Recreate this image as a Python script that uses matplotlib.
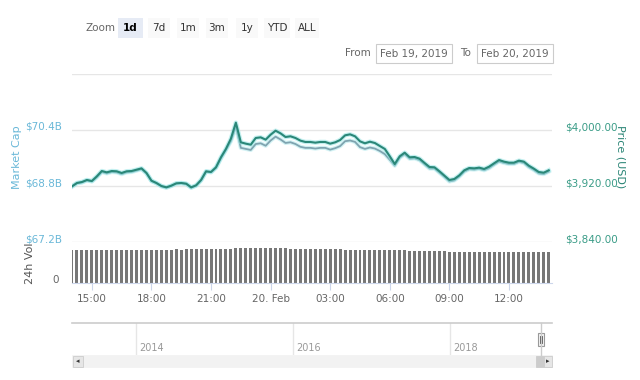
import matplotlib
import matplotlib.pyplot as plt
import pandas as pd
from matplotlib.patches import Rectangle

matplotlib.use("Agg")

W, H = 640, 380

# 15-minute samples, Feb 19 14:00 -> Feb 20 14:00
TIMES = pd.date_range("2019-02-19 14:00", periods=97, freq="15min")

PRICE = [
    3919.5, 3924.3, 3925.7, 3928.6, 3927.1, 3933.8, 3941.4, 3939.5, 3941.4, 3941.0,
    3938.6, 3941.0, 3941.4, 3943.3, 3945.2, 3938.6, 3927.6, 3924.3, 3920.0, 3918.1,
    3920.5, 3923.8, 3924.3, 3923.3, 3918.1, 3921.0, 3928.6, 3941.0, 3940.0, 3946.7,
    3961.0, 3972.9, 3987.6, 4010.5, 3982.4, 3980.5, 3979.0, 3988.6, 3989.5, 3986.2,
    3993.3, 3999.0, 3995.2, 3990.0, 3991.0, 3988.6, 3984.8, 3982.9, 3982.9, 3981.9,
    3982.9, 3982.9, 3980.5, 3982.4, 3985.7, 3992.4, 3993.8, 3991.0, 3983.8, 3981.0,
    3983.3, 3981.4, 3977.1, 3972.9, 3962.4, 3951.4, 3962.4, 3967.6, 3961.0, 3961.4,
    3959.0, 3952.9, 3947.1, 3946.7, 3941.0, 3934.8, 3928.6, 3930.0, 3935.2, 3942.4,
    3945.7, 3945.2, 3946.2, 3944.3, 3947.6, 3952.4, 3957.1, 3954.8, 3953.3, 3953.3,
    3956.2, 3954.8, 3949.0, 3944.8, 3940.0, 3939.0, 3942.4,
]

MARKET_CAP = [
    68.78, 68.88, 68.90, 68.96, 68.93, 69.05, 69.20, 69.16, 69.20, 69.19,
    69.14, 69.19, 69.20, 69.24, 69.28, 69.16, 68.94, 68.88, 68.79, 68.75,
    68.80, 68.87, 68.88, 68.86, 68.75, 68.81, 68.96, 69.21, 69.19, 69.32,
    69.59, 69.83, 70.08, 70.50, 69.89, 69.86, 69.83, 70.00, 70.02, 69.95,
    70.10, 70.21, 70.13, 70.03, 70.05, 70.00, 69.92, 69.89, 69.89, 69.87,
    69.89, 69.89, 69.84, 69.88, 69.94, 70.08, 70.10, 70.06, 69.91, 69.86,
    69.90, 69.87, 69.80, 69.71, 69.55, 69.38, 69.61, 69.71, 69.58, 69.59,
    69.54, 69.42, 69.30, 69.30, 69.18, 69.06, 68.93, 68.96, 69.07, 69.21,
    69.28, 69.27, 69.29, 69.25, 69.31, 69.41, 69.50, 69.46, 69.43, 69.43,
    69.49, 69.46, 69.34, 69.26, 69.16, 69.14, 69.21,
]

# 24h volume, billions USD
VOLUME = [
    8.20, 8.22, 8.18, 8.25, 8.22, 8.24, 8.27, 8.25, 8.26, 8.28,
    8.27, 8.30, 8.28, 8.31, 8.30, 8.32, 8.30, 8.33, 8.35, 8.34,
    8.36, 8.38, 8.37, 8.40, 8.42, 8.41, 8.44, 8.45, 8.47, 8.48,
    8.52, 8.55, 8.60, 8.66, 8.64, 8.66, 8.65, 8.68, 8.70, 8.72,
    8.74, 8.72, 8.70, 8.66, 8.62, 8.58, 8.55, 8.52, 8.50, 8.48,
    8.45, 8.44, 8.42, 8.40, 8.38, 8.37, 8.36, 8.34, 8.32, 8.30,
    8.28, 8.27, 8.25, 8.24, 8.22, 8.20, 8.18, 8.15, 8.12, 8.08,
    8.05, 8.02, 7.98, 7.95, 7.92, 7.88, 7.85, 7.82, 7.80, 7.78,
    7.76, 7.75, 7.73, 7.72, 7.70, 7.71, 7.69, 7.68, 7.66, 7.67,
    7.65, 7.64, 7.66, 7.65, 7.63, 7.64, 7.66,
]

TICK_TIMES = pd.to_datetime([
    "2019-02-19 15:00", "2019-02-19 18:00", "2019-02-19 21:00", "2019-02-20 00:00",
    "2019-02-20 03:00", "2019-02-20 06:00", "2019-02-20 09:00", "2019-02-20 12:00",
])
TICK_LABELS = ["15:00", "18:00", "21:00", "20. Feb", "03:00", "06:00", "09:00", "12:00"]

MCAP_TICKS = [67.2, 68.8, 70.4]
MCAP_LABELS = ["$67.2B", "$68.8B", "$70.4B"]
PRICE_TICKS = [3840, 3920, 4000]
PRICE_LABELS = ["$3,840.00", "$3,920.00", "$4,000.00"]

ZOOM_BUTTONS = ["1d", "7d", "1m", "3m", "1y", "YTD", "ALL"]
NAV_YEARS = [2014, 2016, 2018]

MCAP_COLOR = "#6ab8d8"
PRICE_COLOR = "#3a9c87"
GRID = "#e6e6e6"
AXIS = "#ccd6eb"


def fx(x):
    return x / W


def fy(y):
    return 1 - y / H


def px_axes(fig, x0, y0, x1, y1):
    return fig.add_axes([fx(x0), fy(y1), (x1 - x0) / W, (y1 - y0) / H])


def rect(fig, x0, y0, x1, y1, **kw):
    fig.add_artist(Rectangle((fx(x0), fy(y1)), (x1 - x0) / W, (y1 - y0) / H,
                             transform=fig.transFigure, **kw))


def main():
    fig = plt.figure(figsize=(W / 100, H / 100), dpi=100)
    fig.patch.set_facecolor("white")

    # --- range selector -------------------------------------------------
    fig.text(fx(101), fy(28), "Zoom", color="#666666", fontsize=7.5, ha="center", va="center")
    btn_x = [130, 159, 188, 217, 247, 277, 307]
    btn_w = [25, 22, 22, 22, 22, 26, 24]
    for label, cx, bw in zip(ZOOM_BUTTONS, btn_x, btn_w):
        selected = label == "1d"
        rect(fig, cx - bw / 2, 18, cx + bw / 2, 38,
             facecolor="#e6ebf5" if selected else "#f9f9f9", edgecolor="none")
        fig.text(fx(cx), fy(28), label, fontsize=7.5, ha="center", va="center",
                 color="#000000" if selected else "#333333",
                 fontweight="bold" if selected else "normal")

    fig.text(fx(358), fy(53), "From", color="#666666", fontsize=7.5, ha="center", va="center")
    rect(fig, 376, 44, 452, 63, facecolor="white", edgecolor="#cccccc", linewidth=0.8)
    fig.text(fx(414), fy(53.5), "Feb 19, 2019", color="#666666", fontsize=7.5,
             ha="center", va="center")
    fig.text(fx(466), fy(53), "To", color="#666666", fontsize=7.5, ha="center", va="center")
    rect(fig, 477, 44, 553, 63, facecolor="white", edgecolor="#cccccc", linewidth=0.8)
    fig.text(fx(515), fy(53.5), "Feb 20, 2019", color="#666666", fontsize=7.5,
             ha="center", va="center")

    # --- price / market cap pane ---------------------------------------
    xmin, xmax = TIMES[0], TIMES[-1] + pd.Timedelta("10min")
    ax_mc = px_axes(fig, 72, 74, 552, 242)
    ax_px = ax_mc.twinx()
    for ax in (ax_mc, ax_px):
        ax.set_xlim(xmin, xmax)
        for s in ax.spines.values():
            s.set_visible(False)
        ax.set_xticks([])
        ax.set_yticks([])
    ax_mc.set_ylim(67.2, 72.0)
    ax_px.set_ylim(3840, 4080)
    ax_mc.patch.set_alpha(0)

    for v in [67.2, 68.8, 70.4, 72.0]:
        ax_mc.axhline(v, color=GRID, linewidth=1, zorder=0)

    ax_mc.plot(TIMES, MARKET_CAP, color="#a6e6ea", linewidth=3.0, alpha=0.5,
               solid_joinstyle="round", zorder=2)
    ax_mc.plot(TIMES, MARKET_CAP, color="#7fa4b0", linewidth=1.3, zorder=3)
    ax_px.plot(TIMES, PRICE, color="#94e4e4", linewidth=3.2, alpha=0.55,
               solid_joinstyle="round", zorder=2)
    ax_px.plot(TIMES, PRICE, color="#2a8778", linewidth=1.5, zorder=3)

    for v, s in zip(MCAP_TICKS, MCAP_LABELS):
        ax_mc.text(-0.021, v, s, transform=ax_mc.get_yaxis_transform(), ha="right",
                   va="baseline", color=MCAP_COLOR, fontsize=7.5)
    for v, s in zip(PRICE_TICKS, PRICE_LABELS):
        ax_px.text(1.027, v, s, transform=ax_px.get_yaxis_transform(), ha="left",
                   va="baseline", color=PRICE_COLOR, fontsize=7.5)

    fig.text(fx(17.5), fy(157), "Market Cap", rotation=90, color=MCAP_COLOR,
             fontsize=8, ha="center", va="center")
    fig.text(fx(621), fy(157), "Price (USD)", rotation=270, color="#2b8576",
             fontsize=8, ha="center", va="center")

    # --- volume pane ------------------------------------------------------
    ax_vol = px_axes(fig, 72, 243, 552, 283)
    ax_vol.set_xlim(xmin, xmax)
    ax_vol.set_ylim(0, 10)
    ax_vol.bar(TIMES, VOLUME, width=0.6 / 96, color="#777777", linewidth=0)
    for name, s in ax_vol.spines.items():
        s.set_visible(name == "bottom")
    ax_vol.spines["bottom"].set_color(AXIS)
    ax_vol.set_yticks([])
    ax_vol.set_xticks(TICK_TIMES)
    ax_vol.set_xticklabels(TICK_LABELS)
    ax_vol.tick_params(axis="x", length=5, color=AXIS, labelcolor="#666666",
                       labelsize=7.5, pad=3)
    ax_vol.patch.set_alpha(0)

    fig.text(fx(30), fy(263), "24h Vol", rotation=90, color="#555555",
             fontsize=8, ha="center", va="center")
    fig.text(fx(56), fy(280), "0", color="#666666", fontsize=7.5, ha="center", va="center")

    # --- navigator ------------------------------------------------------
    nav = px_axes(fig, 72, 323, 552, 355)
    nav.set_xlim(2013.185, 2019.30)
    nav.set_ylim(0, 1)
    for name, s in nav.spines.items():
        s.set_visible(name == "top")
    nav.spines["top"].set_color("#cccccc")
    nav.spines["top"].set_linewidth(1.2)
    nav.set_xticks([])
    nav.set_yticks([])
    for yr in NAV_YEARS:
        nav.axvline(yr, color=GRID, linewidth=1)
        nav.text(yr + 0.04, 0.22, str(yr), color="#999999", fontsize=7,
                 ha="left", va="center")

    # handle
    fig.add_artist(plt.Line2D([fx(541), fx(541)], [fy(323), fy(355)],
                              transform=fig.transFigure, color="#cccccc", linewidth=1))
    rect(fig, 538, 333, 544, 346, facecolor="#f2f2f2", edgecolor="#999999", linewidth=0.8)
    for lx in (540.3, 541.7):
        fig.add_artist(plt.Line2D([fx(lx), fx(lx)], [fy(336), fy(343)],
                                  transform=fig.transFigure, color="#555555", linewidth=0.6))

    # scrollbar
    rect(fig, 72, 355, 552, 367, facecolor="#f2f2f2", edgecolor="#f2f2f2", linewidth=0.5)
    rect(fig, 72.5, 355.5, 83, 366.5, facecolor="#e6e6e6", edgecolor="#cccccc", linewidth=0.6)
    rect(fig, 536, 355.5, 544, 366.5, facecolor="#cccccc", edgecolor="#cccccc", linewidth=0.6)
    rect(fig, 544, 355.5, 552, 366.5, facecolor="#e6e6e6", edgecolor="#cccccc", linewidth=0.6)
    fig.text(fx(77.8), fy(361), "\u25c2", color="#333333", fontsize=5, ha="center", va="center")
    fig.text(fx(548), fy(361), "\u25b8", color="#333333", fontsize=5, ha="center", va="center")

    fig.savefig("out.png", dpi=100)
    plt.close(fig)


if __name__ == "__main__":
    main()
